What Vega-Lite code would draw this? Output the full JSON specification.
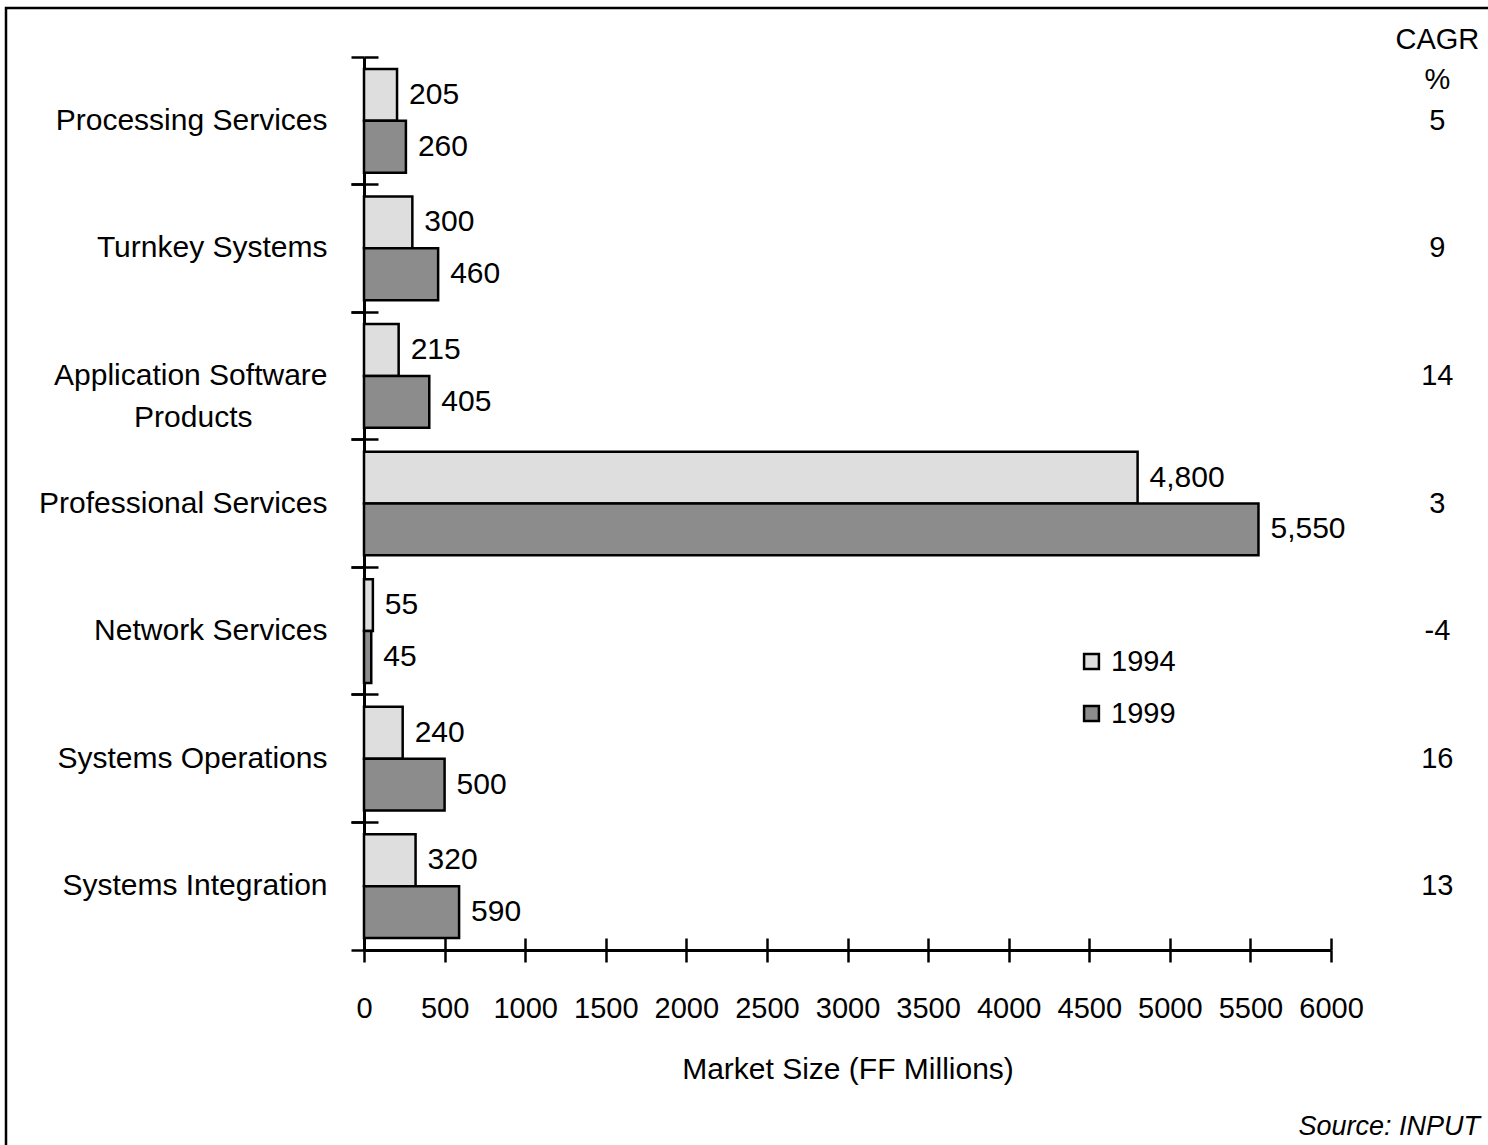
{
  "$schema": "https://vega.github.io/schema/vega-lite/v6.json",
  "width": 1490,
  "height": 1145,
  "autosize": {"type": "none"},
  "padding": {"left": 6, "top": 8, "right": 0, "bottom": 0},
  "background": "white",
  "config": {
    "font": "Liberation Sans",
    "view": {"stroke": "black", "strokeWidth": 2.5},
    "axis": {
      "domainColor": "black", "tickColor": "black", "labelColor": "black", "titleColor": "black",
      "domainWidth": 3, "tickWidth": 2.5, "grid": false,
      "labelFont": "Liberation Sans", "labelFontSize": 29, "labelLimit": 0,
      "titleFont": "Liberation Sans", "titleFontSize": 30, "titleFontWeight": "normal"
    },
    "legend": {
      "labelFont": "Liberation Sans", "labelFontSize": 29, "labelColor": "black", "labelLimit": 0
    }
  },
  "data": {
    "values": [
      {"category": "Processing Services", "year": "1994", "value": 205},
      {"category": "Processing Services", "year": "1999", "value": 260},
      {"category": "Turnkey Systems", "year": "1994", "value": 300},
      {"category": "Turnkey Systems", "year": "1999", "value": 460},
      {"category": "Application Software Products", "year": "1994", "value": 215},
      {"category": "Application Software Products", "year": "1999", "value": 405},
      {"category": "Professional Services", "year": "1994", "value": 4800},
      {"category": "Professional Services", "year": "1999", "value": 5550},
      {"category": "Network Services", "year": "1994", "value": 55},
      {"category": "Network Services", "year": "1999", "value": 45},
      {"category": "Systems Operations", "year": "1994", "value": 240},
      {"category": "Systems Operations", "year": "1999", "value": 500},
      {"category": "Systems Integration", "year": "1994", "value": 320},
      {"category": "Systems Integration", "year": "1999", "value": 590}
    ]
  },
  "layer": [
    {
      "mark": {"type": "bar", "stroke": "black", "strokeWidth": 2.5},
      "encoding": {
        "y": {
          "field": "category", "type": "nominal", "sort": null,
          "scale": {
            "domain": ["Processing Services", "Turnkey Systems", "Application Software Products", "Professional Services", "Network Services", "Systems Operations", "Systems Integration"],
            "range": [49, 942], "paddingInner": 0, "paddingOuter": 0
          },
          "axis": {
            "title": null, "orient": "left", "offset": -358, "bandPosition": 0,
            "tickSize": 13, "labelPadding": 24, "labelLineHeight": 42, "labelFontSize": 30,
            "labelExpr": "datum.value == 'Application Software Products' ? ['Application Software', 'Products\u00a0\u00a0\u00a0\u00a0\u00a0\u00a0\u00a0\u00a0\u00a0\u200b'] : datum.value"
          }
        },
        "yOffset": {
          "field": "year", "type": "nominal",
          "scale": {"domain": ["1994", "1999"], "paddingInner": 0, "paddingOuter": 0.23}
        },
        "x": {
          "field": "value", "type": "quantitative",
          "scale": {"domain": [0, 6000], "range": [358, 1325], "nice": false, "zero": true},
          "axis": {
            "orient": "bottom", "offset": -203, "values": [0, 500, 1000, 1500, 2000, 2500, 3000, 3500, 4000, 4500, 5000, 5500, 6000],
            "tickSize": 12, "labelPadding": 32, "title": "Market Size (FF Millions)", "titlePadding": 31, "format": "d",
            "labelFlush": false, "labelOverlap": false
          }
        },
        "fill": {
          "field": "year", "type": "nominal",
          "scale": {"domain": ["1994", "1999"], "range": ["#dedede", "#8c8c8c"]},
          "legend": {
            "title": null, "orient": "none", "legendX": 1071, "legendY": 639,
            "symbolType": "square", "symbolSize": 220, "symbolStrokeColor": "black", "symbolStrokeWidth": 2.5,
            "rowPadding": 22, "labelOffset": 5
          }
        }
      }
    },
    {
      "mark": {"type": "text", "align": "left", "baseline": "middle", "dx": 12, "fontSize": 30, "font": "Liberation Sans", "color": "black"},
      "encoding": {
        "y": {
          "field": "category", "type": "nominal", "sort": null,
          "axis": {"title": null, "orient": "left", "offset": -358, "bandPosition": 0, "tickSize": -14, "labels": false, "domain": false}
        },
        "yOffset": {"field": "year", "type": "nominal"},
        "x": {
          "field": "value", "type": "quantitative",
          "axis": {"orient": "bottom", "offset": -203, "values": [0, 500, 1000, 1500, 2000, 2500, 3000, 3500, 4000, 4500, 5000, 5500, 6000], "tickSize": -12, "labels": false, "domain": false, "title": null}
        },
        "text": {"field": "value", "type": "quantitative", "format": ","}
      }
    },
    {
      "data": {
        "values": [
          {"category": "Processing Services", "cagr": "5"},
          {"category": "Turnkey Systems", "cagr": "9"},
          {"category": "Application Software Products", "cagr": "14"},
          {"category": "Professional Services", "cagr": "3"},
          {"category": "Network Services", "cagr": "-4"},
          {"category": "Systems Operations", "cagr": "16"},
          {"category": "Systems Integration", "cagr": "13"}
        ]
      },
      "mark": {"type": "text", "align": "center", "baseline": "middle", "fontSize": 29, "font": "Liberation Sans", "color": "black"},
      "encoding": {
        "y": {
          "field": "category", "type": "nominal", "sort": null,
          "axis": {"title": null, "orient": "left", "offset": -358, "bandPosition": 1, "tickSize": 13, "labels": false, "domain": false}
        },
        "x": {"datum": 6660, "type": "quantitative", "axis": null},
        "text": {"field": "cagr", "type": "nominal"}
      }
    },
    {
      "data": {"values": [{}]},
      "mark": {"type": "text", "align": "center", "baseline": "middle", "fontSize": 29, "font": "Liberation Sans", "color": "black", "lineHeight": 40, "dy": -81, "text": ["CAGR", "%"]},
      "encoding": {
        "y": {"datum": "Processing Services", "type": "nominal", "axis": null},
        "x": {"datum": 6660, "type": "quantitative", "axis": null}
      }
    },
    {
      "data": {"values": [{}]},
      "mark": {"type": "text", "align": "right", "baseline": "middle", "fontSize": 27, "font": "Liberation Sans", "fontStyle": "italic", "color": "black", "dy": 241, "text": "Source: INPUT"},
      "encoding": {
        "y": {"datum": "Systems Integration", "type": "nominal", "axis": null},
        "x": {"datum": 6925, "type": "quantitative", "axis": null}
      }
    }
  ],
  "resolve": {"axis": {"x": "independent", "y": "independent"}}
}
